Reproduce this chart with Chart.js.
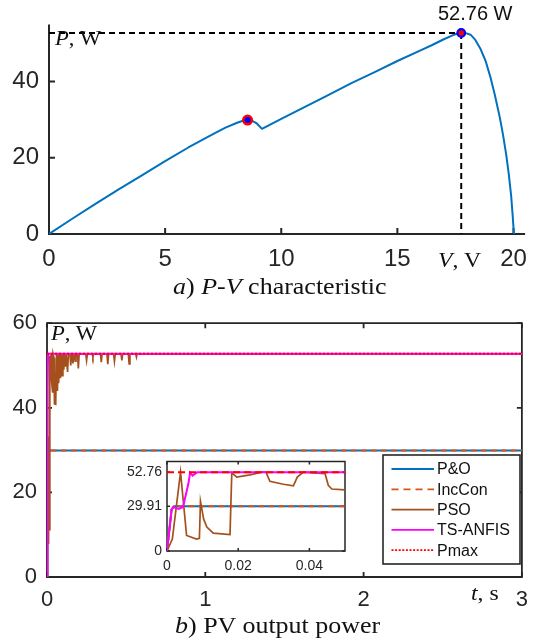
<!DOCTYPE html>
<html>
<head>
<meta charset="utf-8">
<script src="https://cdn.jsdelivr.net/npm/chart.js@4.4.1/dist/chart.umd.min.js"></script>
<style>
  html, body { margin: 0; padding: 0; background: #fff; }
  #page { position: relative; width: 538px; height: 639px; overflow: hidden; }
  canvas { position: absolute; }
  .lbl { position: absolute; white-space: nowrap; line-height: 1; color: #111; font-family: "Liberation Serif", "Times New Roman", serif; transform-origin: 0 0; transform: scaleX(1.13); }
  .lbl i { font-style: italic; }
  .sans { font-family: "Liberation Sans", Arial, sans-serif; transform: none; }
</style>
</head>
<body>
<div id="page">
  <canvas id="pv" width="538" height="300" style="left:0;top:0;width:538px;height:300px"></canvas>
  <canvas id="pw" width="538" height="339" style="left:0;top:300px;width:538px;height:339px"></canvas>
  <canvas id="zoom" width="250" height="132" style="left:100px;top:448px;width:250px;height:132px"></canvas>

  <div class="lbl" style="left:55px;top:28px;font-size:20px"><i>P</i>, W</div>
  <div class="lbl sans" style="left:438px;top:3px;font-size:20px">52.76 W</div>
  <div class="lbl" style="left:438px;top:250px;font-size:21px"><i>V</i>, V</div>
  <div class="lbl" style="left:173px;top:275px;font-size:23px"><i>a</i>) <i>P</i>-<i>V</i> characteristic</div>

  <div class="lbl" style="left:51px;top:323px;font-size:20px"><i>P</i>, W</div>
  <div class="lbl" style="left:471px;top:583px;font-size:21px"><i>t</i>, s</div>
  <div class="lbl" style="left:175px;top:614px;font-size:23px"><i>b</i>) PV output power</div>
</div>

<script>
// a) P-V characteristic
const pvV = [0, 1, 2, 3, 4, 5, 6, 7, 7.6, 8.1, 8.35, 8.55, 8.75, 8.95, 9.17,
  10, 11, 12, 13, 14, 15, 16, 16.5, 17, 17.4, 17.6, 17.75, 17.95, 18.15, 18.35, 18.57, 18.8, 19.0, 19.2, 19.41, 19.55, 19.69, 19.8, 19.9, 19.96, 20.02]
const pvP = [0, 4.0, 7.9, 11.7, 15.4, 19.1, 22.7, 26.0, 27.9, 29.2, 29.7, 29.9, 29.7, 29.0, 27.6,
  30.2, 33.3, 36.4, 39.5, 42.4, 45.4, 48.2, 49.6, 51.1, 52.2, 52.6, 52.76, 52.7, 52.3, 51.0, 48.7, 45.4, 41.3, 36.4, 30.6, 26.0, 20.7, 15.6, 10, 5.2, 0]
const localMpp = [8.55, 29.9]
const globalMpp = [17.75, 52.76]
const pvXTicks = [0, 5, 10, 15, 20]
const pvYTicks = [0, 20, 40]

// b) PV output power
const methods = ['P&O', 'IncCon', 'PSO', 'TS-ANFIS', 'Pmax']
const poT = [0, 0.0013, 0.002, 3]
const poP = [0, 27.8, 29.91, 29.91]
const incT = [0, 0.0013, 0.002, 3]
const incP = [0, 27.8, 29.91, 29.91]
const psoT = [
  0, 0.0015, 0.0038, 0.0055, 0.0083, 0.0091, 0.0094, 0.0103, 0.0112, 0.013, 0.0177, 0.0182, 0.0196, 0.0233,
  0.0266, 0.0278, 0.0289, 0.0327, 0.0355, 0.0366, 0.0383, 0.0444, 0.0453, 0.0463, 0.05, 0.055, 0.06,
  0.061, 0.066, 0.071,
  0.072, 0.075, 0.08,
  0.081, 0.085, 0.09,
  0.091, 0.095, 0.1,
  0.101, 0.106, 0.111,
  0.112, 0.116, 0.121,
  0.125, 0.13, 0.135,
  0.145, 0.15, 0.155,
  0.159, 0.164, 0.169,
  0.173, 0.178, 0.183,
  0.193, 0.198, 0.203,
  0.245, 0.25, 0.255,
  0.286, 0.29, 0.294,
  0.338, 0.343, 0.348,
  0.379, 0.384, 0.389,
  0.421, 0.426, 0.431,
  0.468, 0.473, 0.478,
  0.514, 0.519, 0.524,
  0.561, 0.565, 0.569,
  3
]
const psoP = [
  0, 8, 52.76, 10.4, 8, 8.5, 33.2, 21.3, 16, 12, 11, 52.3, 49.5, 51,
  52.76, 52.76, 46.7, 44.7, 43.6, 49.5, 52.76, 51.8, 44, 41.5, 40.9, 40.8, 52.7,
  52.7, 44, 52.7,
  52.7, 45.8, 52.7,
  52.7, 47, 52.7,
  52.7, 47.6, 52.7,
  52.7, 49, 52.7,
  52.7, 49.7, 52.7,
  52.7, 48.5, 52.7,
  52.7, 50, 52.7,
  52.7, 50.5, 52.7,
  52.7, 51, 52.7,
  52.7, 49.3, 52.7,
  52.7, 51.2, 52.7,
  52.7, 52, 52.7,
  52.7, 50.8, 52.7,
  52.7, 50.3, 52.7,
  52.7, 51, 52.7,
  52.7, 51.2, 52.7,
  52.7, 50.4, 52.7,
  52.7, 52, 52.7,
  52.76
]
const tsT = [0, 0.0013, 0.0018, 0.0033, 0.0045, 0.006, 0.0065, 0.0072, 0.0085, 3]
const tsP = [0, 27.8, 29.4, 28.2, 29.5, 45, 52.5, 50.5, 52.76, 52.76]
const pmT = [0, 3]
const pmP = [52.76, 52.76]
const pwXTicks = [0, 1, 2, 3]
const pwYTicks = [0, 20, 40, 60]
const zoomXTicks = [0, 0.02, 0.04]
const zoomYTicks = [0, 29.91, 52.76]

const INK = '#262626'
const BLUE = '#0072BD'
const ORANGE = '#D95319'
const BROWN = '#A5501C'
const MAGENTA = '#FF00FF'
const RED = '#FF0000'
const SANS = "'Liberation Sans', Arial, sans-serif"

const pts = (xs, ys) => xs.map((x, i) => ({ x, y: ys[i] }))

// axes drawn MATLAB style: dark lines, ticks pointing inward
const frame = {
  id: 'frame',
  beforeDraw(chart, args, o) {
    if (!o.fill) return
    const { ctx, chartArea: a } = chart
    ctx.save()
    ctx.fillStyle = o.fill
    ctx.fillRect(a.left, a.top, a.right - a.left, a.bottom - a.top)
    ctx.restore()
  },
  beforeDatasetsDraw(chart, args, o) {
    const { ctx, chartArea: a, scales: { x, y } } = chart
    ctx.save()
    ctx.strokeStyle = o.color
    ctx.lineWidth = o.width
    ctx.beginPath()
    ctx.moveTo(a.left, a.top)
    ctx.lineTo(a.left, a.bottom)
    ctx.lineTo(a.right, a.bottom)
    if (o.box) { ctx.lineTo(a.right, a.top); ctx.closePath() }
    ctx.stroke()
    const L = o.tick
    ctx.beginPath()
    x.ticks.forEach(t => {
      const p = x.getPixelForValue(t.value)
      ctx.moveTo(p, a.bottom); ctx.lineTo(p, a.bottom - L)
      if (o.box) { ctx.moveTo(p, a.top); ctx.lineTo(p, a.top + L) }
    })
    y.ticks.forEach(t => {
      const p = y.getPixelForValue(t.value)
      ctx.moveTo(a.left, p); ctx.lineTo(a.left + L, p)
      if (o.box) { ctx.moveTo(a.right, p); ctx.lineTo(a.right - L, p) }
    })
    ctx.stroke()
    ctx.restore()
  }
}

const boxLegend = {
  id: 'boxLegend',
  afterDatasetsDraw(chart, args, o) {
    const { ctx } = chart
    ctx.save()
    ctx.fillStyle = '#fff'
    ctx.fillRect(o.left, o.top, o.right - o.left, o.bottom - o.top)
    ctx.strokeStyle = INK
    ctx.lineWidth = 1.6
    ctx.strokeRect(o.left, o.top, o.right - o.left, o.bottom - o.top)
    ctx.font = o.font
    ctx.textBaseline = 'middle'
    chart.data.datasets.forEach((ds, i) => {
      const yy = o.first + i * o.step
      ctx.strokeStyle = ds.borderColor
      ctx.lineWidth = 1.8
      ctx.setLineDash(o.dashes[i])
      ctx.beginPath()
      ctx.moveTo(o.x0, yy)
      ctx.lineTo(o.x1, yy)
      ctx.stroke()
      ctx.setLineDash([])
      ctx.fillStyle = '#111'
      ctx.fillText(ds.label, o.textX, yy + 1)
    })
    ctx.restore()
  }
}

function axis(min, max, ticks, labelFont, pad, size, horizontal) {
  return {
    type: 'linear', min, max,
    afterBuildTicks: s => { s.ticks = ticks.map(v => ({ value: v })) },
    afterFit: s => { if (horizontal) s.height = size; else s.width = size },
    grid: { display: false, drawTicks: false },
    border: { display: false },
    ticks: { autoSkip: false, maxRotation: 0, padding: pad, color: INK, font: labelFont, callback: v => String(v) }
  }
}

const base = {
  responsive: false,
  animation: false,
  devicePixelRatio: 1,
  events: [],
  elements: { line: { tension: 0, fill: false }, point: { radius: 0 } }
}

new Chart(document.getElementById('pv'), {
  type: 'line',
  data: {
    datasets: [
      { data: pts([globalMpp[0]], [globalMpp[1]]), showLine: false, pointRadius: 3.8, pointBorderWidth: 2.2, pointBackgroundColor: RED, pointBorderColor: '#0000FF', order: 0 },
      { data: pts([localMpp[0]], [localMpp[1]]), showLine: false, pointRadius: 4.3, pointBorderWidth: 2.5, pointBackgroundColor: '#0000FF', pointBorderColor: RED, order: 0 },
      { data: pts([globalMpp[0], globalMpp[0]], [globalMpp[1], 0]), borderColor: '#000', borderWidth: 2, borderDash: [6, 4], order: 1 },
      { data: pts([0, globalMpp[0]], [globalMpp[1], globalMpp[1]]), borderColor: '#000', borderWidth: 2, borderDash: [6, 4], order: 1 },
      { data: pts(pvV, pvP), borderColor: BLUE, borderWidth: 2, borderJoinStyle: 'round', order: 2 }
    ]
  },
  options: {
    ...base,
    layout: { padding: { top: 11, right: 2, left: 0, bottom: 0 } },
    plugins: {
      legend: { display: false }, tooltip: { enabled: false },
      frame: { color: INK, width: 2, tick: 6, box: false }
    },
    scales: {
      x: axis(0, 20.5, pvXTicks, { family: SANS, size: 24 }, 11, 66, true),
      y: axis(0, 55, pvYTicks, { family: SANS, size: 24 }, 10, 49, false)
    }
  },
  plugins: [frame]
})

function powerSets(widths, pmaxDash) {
  return [
    { label: methods[0], data: pts(poT, poP), borderColor: BLUE, borderWidth: widths, order: 4 },
    { label: methods[1], data: pts(incT, incP), borderColor: ORANGE, borderWidth: widths, borderDash: [6, 4], order: 3 },
    { label: methods[2], data: pts(psoT, psoP), borderColor: BROWN, borderWidth: widths - 0.3, order: 2 },
    { label: methods[3], data: pts(tsT, tsP), borderColor: MAGENTA, borderWidth: widths, order: 1 },
    { label: methods[4], data: pts(pmT, pmP), borderColor: RED, borderWidth: widths, borderDash: pmaxDash, order: 0 }
  ]
}

new Chart(document.getElementById('pw'), {
  type: 'line',
  data: { datasets: powerSets(2, [2, 2]) },
  options: {
    ...base,
    layout: { padding: { top: 19, right: 7, left: 0, bottom: 0 } },
    plugins: {
      legend: { display: false }, tooltip: { enabled: false },
      frame: { color: INK, width: 1.8, tick: 5, box: true },
      boxLegend: {
        left: 383, top: 155, right: 520, bottom: 264,
        x0: 391.5, x1: 434, textX: 437, first: 169, step: 20.3,
        font: '16px ' + SANS,
        dashes: [[], [7, 5], [], [], [2, 1.6]]
      }
    },
    scales: {
      x: axis(0, 3, pwXTicks, { family: SANS, size: 22 }, 10, 62, true),
      y: axis(0, 60, pwYTicks, { family: SANS, size: 22 }, 10, 47, false)
    }
  },
  plugins: [frame, boxLegend]
})

new Chart(document.getElementById('zoom'), {
  type: 'line',
  data: { datasets: powerSets(2, [7, 4]) },
  options: {
    ...base,
    layout: { padding: { top: 11, right: 5, left: 0, bottom: 0 } },
    plugins: {
      legend: { display: false }, tooltip: { enabled: false },
      frame: { color: INK, width: 1.5, tick: 3, box: true, fill: '#fff' }
    },
    scales: {
      x: axis(0, 0.05, zoomXTicks, { family: SANS, size: 14 }, 7, 29, true),
      y: axis(0, 60, zoomYTicks, { family: SANS, size: 14 }, 5, 67, false)
    }
  },
  plugins: [frame]
})
</script>
</body>
</html>
